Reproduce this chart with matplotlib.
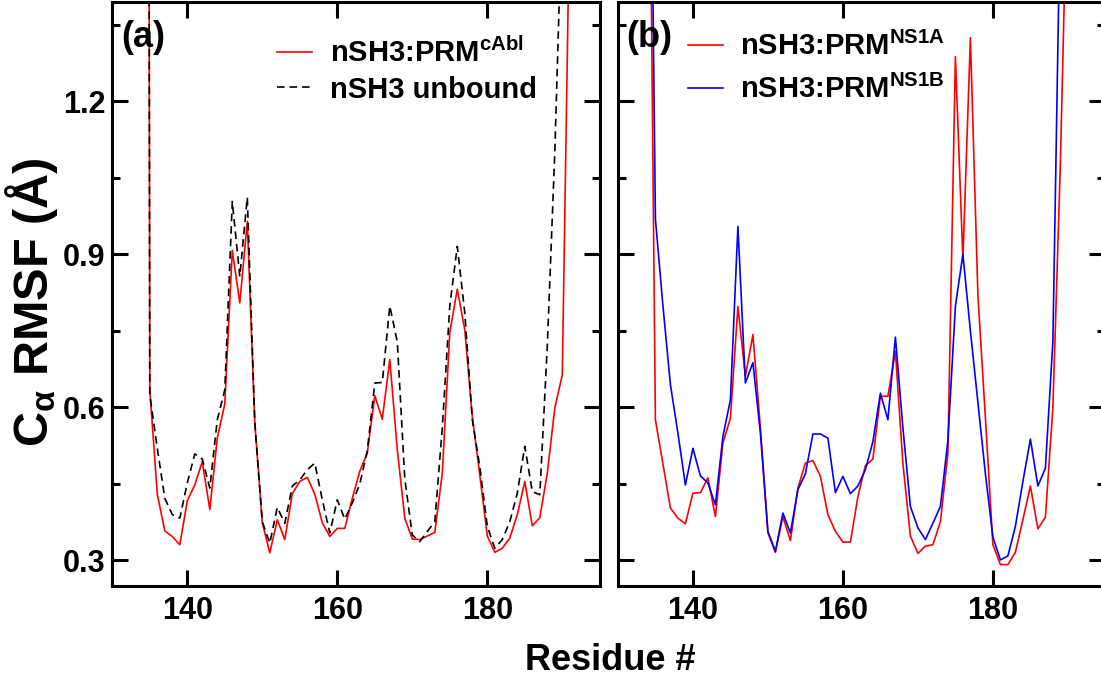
import matplotlib
matplotlib.use('Agg')
import matplotlib.pyplot as plt
from matplotlib.ticker import FixedLocator

plt.rcParams['font.family'] = ['Liberation Sans', 'DejaVu Sans']
plt.rcParams['font.weight'] = 'bold'
plt.rcParams['mathtext.fontset'] = 'custom'
plt.rcParams['mathtext.rm'] = 'Liberation Sans:bold'
plt.rcParams['mathtext.bf'] = 'Liberation Sans:bold'
plt.rcParams['mathtext.it'] = 'Liberation Sans'
plt.rcParams['mathtext.sf'] = 'Liberation Sans:bold'
plt.rcParams['lines.scale_dashes'] = False

# ---------------- data ----------------
res_a = list(range(134, 192))
rmsf_cabl = [10.0, 0.635, 0.430, 0.358, 0.347, 0.331, 0.417, 0.448, 0.494, 0.400,
             0.540, 0.607, 0.908, 0.805, 0.965, 0.570, 0.374, 0.315, 0.380, 0.341,
             0.431, 0.455, 0.463, 0.430, 0.374, 0.347, 0.363, 0.363, 0.422, 0.475,
             0.511, 0.623, 0.577, 0.694, 0.517, 0.383, 0.342, 0.341, 0.348, 0.355,
             0.471, 0.747, 0.832, 0.752, 0.582, 0.468, 0.348, 0.316, 0.324, 0.344,
             0.390, 0.455, 0.368, 0.384, 0.471, 0.599, 0.664, 1.600]
rmsf_unbound = [10.0, 0.625, 0.520, 0.422, 0.390, 0.383, 0.452, 0.509, 0.499, 0.442,
                0.576, 0.635, 1.004, 0.857, 1.012, 0.570, 0.376, 0.334, 0.404, 0.373,
                0.446, 0.458, 0.478, 0.491, 0.419, 0.354, 0.419, 0.381, 0.413, 0.450,
                0.515, 0.648, 0.649, 0.799, 0.729, 0.460, 0.350, 0.337, 0.357, 0.376,
                0.560, 0.799, 0.916, 0.785, 0.576, 0.484, 0.367, 0.324, 0.341, 0.376,
                0.432, 0.524, 0.435, 0.429, 0.720, 1.100, 1.600, 2.500]

res_b = list(range(134, 192))
rmsf_ns1a = [2.10, 0.576, 0.490, 0.403, 0.383, 0.372, 0.432, 0.433, 0.462, 0.386,
             0.530, 0.579, 0.798, 0.661, 0.743, 0.560, 0.354, 0.316, 0.386, 0.339,
             0.442, 0.491, 0.496, 0.465, 0.390, 0.357, 0.336, 0.336, 0.425, 0.486,
             0.499, 0.622, 0.622, 0.710, 0.490, 0.348, 0.314, 0.328, 0.331, 0.376,
             0.510, 1.288, 0.890, 1.325, 0.820, 0.580, 0.331, 0.292, 0.292, 0.316,
             0.380, 0.446, 0.362, 0.385, 0.600, 1.080, 1.700, 3.000]
rmsf_ns1b = [2.30, 0.970, 0.800, 0.645, 0.550, 0.448, 0.520, 0.466, 0.452, 0.409,
             0.543, 0.615, 0.955, 0.648, 0.688, 0.550, 0.357, 0.318, 0.393, 0.354,
             0.439, 0.470, 0.548, 0.548, 0.540, 0.433, 0.465, 0.431, 0.446, 0.478,
             0.533, 0.628, 0.576, 0.738, 0.560, 0.406, 0.364, 0.341, 0.373, 0.406,
             0.535, 0.799, 0.900, 0.750, 0.610, 0.470, 0.346, 0.301, 0.309, 0.367,
             0.455, 0.538, 0.446, 0.481, 0.730, 1.600, 3.000, 4.000]

xticks = [140, 160, 180]
yticks = [0.3, 0.6, 0.9, 1.2]
yticks_minor = [0.45, 0.75, 1.05, 1.35]
label_cabl = r'nSH3:PRM$^{\mathrm{cAbl}}$'
label_unbound = 'nSH3 unbound'
label_ns1a = r'nSH3:PRM$^{\mathrm{NS1A}}$'
label_ns1b = r'nSH3:PRM$^{\mathrm{NS1B}}$'

# ---------------- figure ----------------
W, H = 1101, 682
fig = plt.figure(figsize=(W / 100, H / 100), dpi=100)
bottom = (H - 586.0) / H
height = 584.5 / H
axw = 487.5 / W
ax1 = fig.add_axes([112.3 / W, bottom, axw, height])
ax2 = fig.add_axes([617.9 / W, bottom, axw, height])

lw = 1.2
ax1.plot(res_a, rmsf_cabl, color='#ff0000', lw=lw, label=label_cabl)
ax1.plot(res_a, rmsf_unbound, color='black', lw=lw, dashes=(5.5, 3.5), label=label_unbound)
ax2.plot(res_b, rmsf_ns1a, color='#ff0000', lw=lw, label=label_ns1a)
ax2.plot(res_b, rmsf_ns1b, color='#0000ff', lw=lw, label=label_ns1b)

for ax in (ax1, ax2):
    ax.set_xlim(130, 195)
    ax.set_ylim(0.25, 1.396)
    ax.xaxis.set_major_locator(FixedLocator(xticks))
    ax.yaxis.set_major_locator(FixedLocator(yticks))
    ax.yaxis.set_minor_locator(FixedLocator(yticks_minor))
    ax.tick_params(which='both', direction='in', top=True, right=True,
                   width=2.2, labelsize=22, pad=5)
    ax.tick_params(which='major', length=11.5)
    ax.tick_params(which='minor', length=5.5)
    ax.tick_params(axis='x', pad=7)
    for s in ax.spines.values():
        s.set_linewidth(2.2)
ax2.tick_params(labelleft=False)

ax1.text(0.018, 0.968, '(a)', transform=ax1.transAxes, fontsize=26,
         fontweight='bold', va='top', ha='left')
ax2.text(0.017, 0.968, '(b)', transform=ax2.transAxes, fontsize=26,
         fontweight='bold', va='top', ha='left')

leg_kw = dict(loc='upper left', frameon=False, fontsize=21, handlelength=1.2,
              handletextpad=0.6, borderpad=0, borderaxespad=0)
ax1.legend(bbox_to_anchor=(0.338, 0.938), labelspacing=0.25, **leg_kw)
ax2.legend(bbox_to_anchor=(0.143, 0.948), labelspacing=0.48, **leg_kw)

fig.text(0.554, 0.032, 'Residue #', ha='center', va='center', fontsize=26)
fig.text(0.029, 0.5565, r'C$_{\alpha}$ RMSF (Å)', rotation=90, ha='center',
         va='center', fontsize=35)

fig.savefig('out.png', dpi=100)
